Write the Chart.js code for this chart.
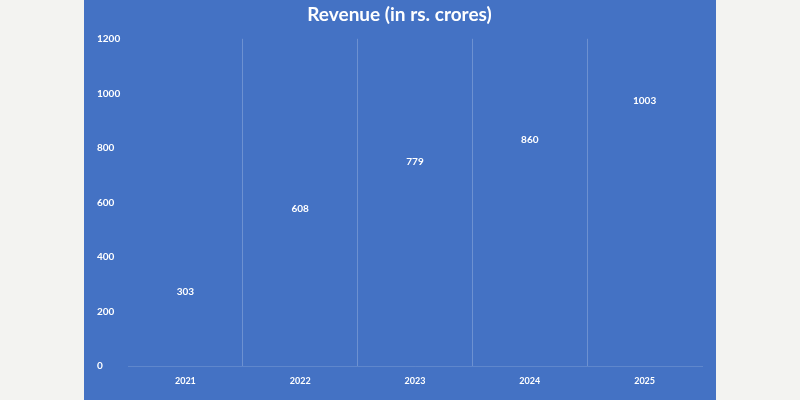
<!DOCTYPE html>
<html>
<head>
<meta charset="utf-8">
<script src="https://cdn.jsdelivr.net/npm/chart.js@4"></script>
<style>
  html, body { margin: 0; padding: 0; width: 800px; height: 400px; background: #f3f3f1; overflow: hidden; }
  #panel { position: absolute; left: 84px; top: 0; width: 632px; height: 400px; background: #4472c4; }
  canvas { display: block; }
</style>
</head>
<body>
<div id="panel"><canvas id="c" width="632" height="400"></canvas></div>
<script>
const categories = ['2021', '2022', '2023', '2024', '2025'];
const revenue = [303, 608, 779, 860, 1003];
const yTicks = [0, 200, 400, 600, 800, 1000, 1200];
const titleText = 'Revenue (in rs. crores)';

const labelPlugin = {
  id: 'valueLabels',
  afterDatasetsDraw(chart) {
    const ctx = chart.ctx;
    const meta = chart.getDatasetMeta(0);
    ctx.save();
    ctx.fillStyle = '#ffffff';
    ctx.font = 'bold 10px Lato, sans-serif';
    ctx.textAlign = 'center';
    ctx.textBaseline = 'middle';
    meta.data.forEach((bar, i) => {
      ctx.fillText(String(revenue[i]), bar.x, bar.y + 8);
    });
    ctx.restore();
  }
};

new Chart(document.getElementById('c'), {
  type: 'bar',
  data: {
    labels: categories,
    datasets: [{
      data: revenue,
      backgroundColor: 'rgba(0,0,0,0)',
      borderWidth: 0
    }]
  },
  options: {
    responsive: false,
    animation: false,
    devicePixelRatio: 1,
    layout: { padding: { left: 13, right: 14, top: 0, bottom: 5 } },
    plugins: {
      legend: { display: false },
      tooltip: { enabled: false },
      title: {
        display: true,
        text: titleText,
        color: '#ffffff',
        font: { family: 'Lato, sans-serif', size: 19, weight: 'bold' },
        padding: { top: 3, bottom: 13 }
      }
    },
    scales: {
      x: {
        offset: true,
        grid: {
          display: true,
          offset: true,
          drawTicks: false,
          color: (c) => (c.type !== 'tick' || c.index === 0) ? 'rgba(0,0,0,0)' : 'rgba(255,255,255,0.22)',
          lineWidth: 1
        },
        border: { display: true, color: 'rgba(255,255,255,0.15)' },
        ticks: {
          color: '#ffffff',
          font: { family: 'Lato, sans-serif', size: 9, weight: 'bold' },
          padding: 9
        }
      },
      y: {
        min: 0,
        max: 1200,
        afterBuildTicks: (scale) => { scale.ticks = yTicks.map(v => ({ value: v })); },
        afterFit: (scale) => { scale.width = 31; },
        grid: { display: false, drawTicks: false },
        border: { display: false },
        ticks: {
          color: '#ffffff',
          crossAlign: 'far',
          callback: (v) => String(v),
          font: { family: 'Lato, sans-serif', size: 10, weight: 'bold' },
          padding: 6
        }
      }
    }
  },
  plugins: [labelPlugin]
});
</script>
</body>
</html>
